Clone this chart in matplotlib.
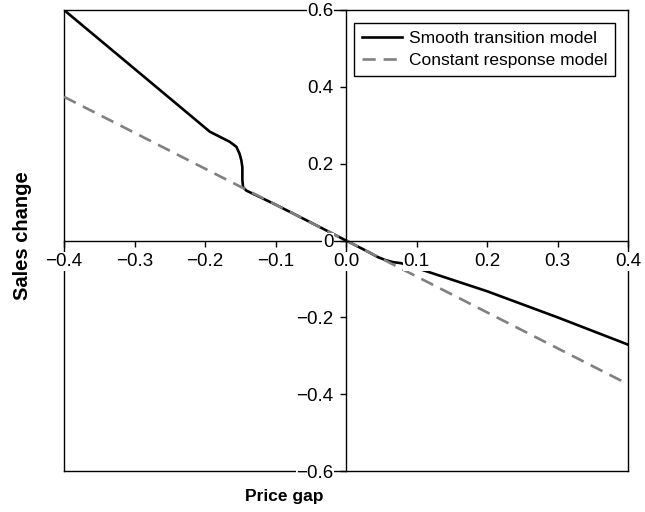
import matplotlib
matplotlib.use('Agg')
import matplotlib.pyplot as plt

plt.rcParams['font.family'] = ['Liberation Sans', 'DejaVu Sans']

# ---- data ----
price_gap_smooth = [-0.40, -0.30, -0.193, -0.179, -0.165, -0.1555, -0.151, -0.1485,
                    -0.147, -0.147, -0.146, -0.1414, -0.10, -0.05, 0.0, 0.03, 0.045,
                    0.056, 0.066, 0.078, 0.094, 0.20, 0.30, 0.40]
sales_smooth = [0.600, 0.447, 0.283, 0.270, 0.257, 0.244, 0.226, 0.209,
                0.191, 0.157, 0.139, 0.130, 0.0935, 0.047, 0.0, -0.028, -0.043,
                -0.051, -0.056, -0.059, -0.068, -0.132, -0.200, -0.271]

price_gap_const = [-0.40, 0.40]
sales_const = [0.374, -0.374]

xticks = [-0.4, -0.3, -0.2, -0.1, 0.0, 0.1, 0.2, 0.3, 0.4]
xtick_labels = ['\u22120.4', '\u22120.3', '\u22120.2', '\u22120.1', '0.0', '0.1', '0.2', '0.3', '0.4']
yticks = [-0.6, -0.4, -0.2, 0.0, 0.2, 0.4, 0.6]
ytick_labels = ['\u22120.6', '\u22120.4', '\u22120.2', '0', '0.2', '0.4', '0.6']

# ---- figure ----
fig = plt.figure(figsize=(6.45, 5.12), dpi=100)
pos = [64 / 645, 41 / 512, 564 / 645, 461 / 512]

frame = fig.add_axes(pos, zorder=0)
frame.set_xticks([])
frame.set_yticks([])
for s in frame.spines.values():
    s.set_linewidth(1.0)
    s.set_color('black')

ax = fig.add_axes(pos, zorder=1)
ax.patch.set_visible(False)

ax.plot(price_gap_smooth, sales_smooth, color='black', lw=1.9, zorder=2,
        solid_joinstyle='round', label='Smooth transition model')
ax.plot(price_gap_const, sales_const, color='#808080', lw=1.9, zorder=2.05,
        dashes=(5.0, 3.0), label='Constant response model')

ax.set_xlim(-0.4, 0.4)
ax.set_ylim(-0.6, 0.6)

ax.spines['left'].set_position(('data', 0))
ax.spines['bottom'].set_position(('data', 0))
ax.spines['right'].set_visible(False)
ax.spines['top'].set_visible(False)
for s in ('left', 'bottom'):
    ax.spines[s].set_linewidth(1.0)
    ax.spines[s].set_zorder(2.1)

ax.set_xticks(xticks)
ax.set_xticklabels(xtick_labels)
ax.set_yticks(yticks)
ax.set_yticklabels(ytick_labels)
ax.tick_params(direction='out', length=4, width=1.0, pad=5, labelsize=13.5)
ax.set_axisbelow(False)
for lbl in ax.get_xticklabels() + ax.get_yticklabels():
    lbl.set_bbox(dict(facecolor='white', edgecolor='none', pad=0.6))

ax.set_xlabel('Price gap', fontsize=12.5, fontweight='bold')
ax.xaxis.set_label_coords(0.39, -0.04)
ax.set_ylabel('Sales change', fontsize=14.5, fontweight='bold')
ax.yaxis.set_label_coords(-0.056, 0.51)

leg = ax.legend(loc='upper right', bbox_to_anchor=(0.977, 0.972), borderaxespad=0,
                fontsize=12.5, frameon=True, fancybox=False, framealpha=1,
                edgecolor='black', handlelength=2.3, handletextpad=0.4,
                labelspacing=0.42, borderpad=0.45)
leg.get_frame().set_linewidth(1.0)
leg.set_zorder(5)

fig.savefig('out.png', dpi=100)
